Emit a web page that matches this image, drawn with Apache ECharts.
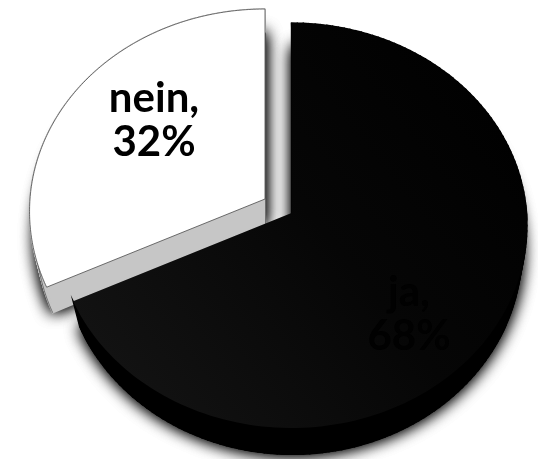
<!DOCTYPE html>
<html><head><meta charset="utf-8">
<style>html,body{margin:0;padding:0;background:#fff}#c{width:538px;height:459px}</style>
<script src="https://cdn.jsdelivr.net/npm/echarts@6/dist/echarts.min.js"></script>
</head><body><div id="c"></div>
<script>
const categories = ['ja', 'nein'];
const values = [68, 32];

const K = 0.0617;
const looks = {
  ja: {apex:[291.5,213], baseApex:[292.5,238], top:new echarts.graphic.LinearGradient(0.95,0.1,0.1,0.85,[{offset:0,color:'#000'},{offset:0.5,color:'#060606'},{offset:1,color:'#121212'}]), side:'#000', stroke:null, lab:[409,314], color:'#010101', z:20},
  nein:{apex:[265,199], baseApex:[265.5,224], top:'#fff', side:'#c6c6c6', stroke:'#4a4a4a', lab:[154,120], color:'#000', z:10}
};
function proj(o, rx, ry, t){
  const Y = -Math.cos(t), w = 1 - K*Y;
  return [o[0] + rx*Math.sin(t)/w, o[1] + ry*Y/w];
}
function wedge(o, rx, ry, a0, a1){
  const pts=[o.slice()], n=160;
  for(let i=0;i<=n;i++) pts.push(proj(o,rx,ry,a0+(a1-a0)*i/n));
  return pts;
}
const total = values.reduce((a,b)=>a+b,0);
function renderItem(params, api){
  const i = params.dataIndex;
  const name = categories[i], L = looks[name];
  let before = 0; for(let j=0;j<i;j++) before += values[j];
  const a0 = before/total*2*Math.PI, a1 = (before+api.value(0))/total*2*Math.PI;
  const RX=235, RY=201.7, BX=229, BY=203;
  const topPts = wedge(L.apex,RX,RY,a0,a1), basePts = wedge(L.baseApex,BX,BY,a0,a1);
  const sides = [];
  for(let k=0;k<topPts.length-1;k++){
    const a=topPts[k], b=topPts[k+1], c=basePts[k+1], d=basePts[k];
    sides.push({type:'polygon',shape:{points:[a,b,c,d]},z2:L.z+1,silent:true,style:{fill:L.side,stroke:L.side,lineWidth:1.4}});
  }
  const shadow = {type:'polygon',shape:{points:basePts},silent:true,style:{fill:'#000',shadowBlur:16,shadowColor:'#000'}};
  const children = [
    Object.assign({z2:L.z},shadow),
    Object.assign({z2:L.z},shadow),
    {type:'polygon',shape:{points:basePts},z2:L.z,silent:true,style:{fill:L.side}},
    ...sides,
    {type:'polyline',shape:{points:basePts.slice(1).concat([basePts[0]])},z2:L.z+2,silent:true,style:{fill:null,stroke:L.stroke||L.side,lineWidth:0.7}},
    {type:'polygon',shape:{points:topPts},z2:L.z+3,silent:true,style:{fill:L.top,stroke:L.stroke,lineWidth:L.stroke?0.8:0}},
    {type:'text',z2:L.z+4,style:{x:L.lab[0],y:L.lab[1],text:name+',\n'+api.value(0)+'%',fill:L.color,font:'bold 42px Lato',lineHeight:44,align:'center',verticalAlign:'middle'}}
  ];
  return {type:'group',children};
}
const chart = echarts.init(document.getElementById('c'),null,{renderer:'canvas'});
chart.setOption({
  animation:false,
  backgroundColor:'#fff',
  series:[{type:'custom',coordinateSystem:'none',renderItem,data:values.map((v,i)=>({name:categories[i],value:[v]}))}]
});
</script></body></html>
